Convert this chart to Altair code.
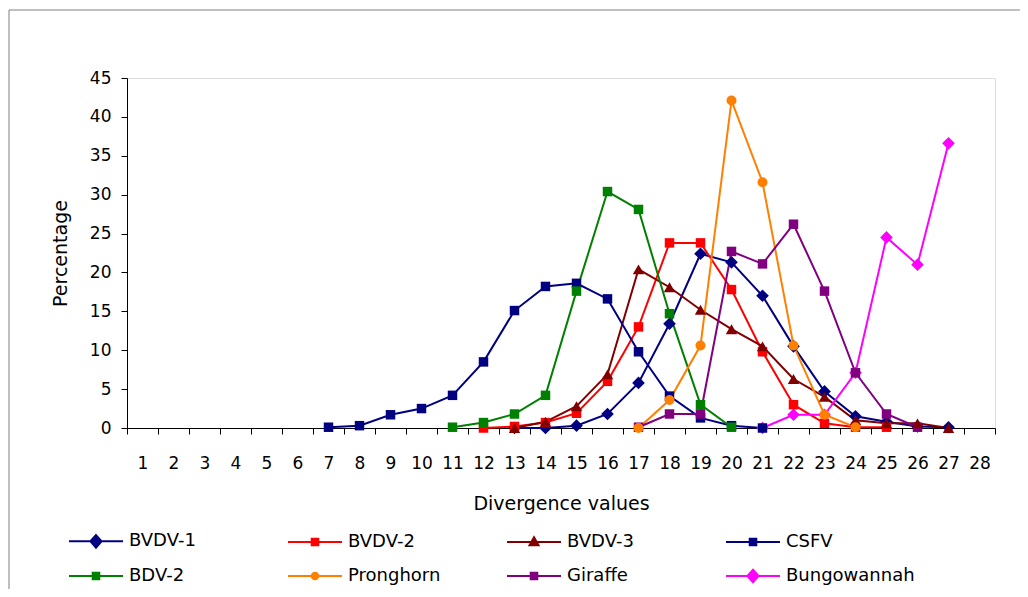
import altair as alt
import pandas as pd

categories = list(range(1, 29))
series_names = ["BVDV-1", "BVDV-2", "BVDV-3", "CSFV", "BDV-2", "Pronghorn", "Giraffe", "Bungowannah"]
series_colors = ["#000080", "#FF0000", "#800000", "#000080", "#008000", "#FF7F00", "#800080", "#FF00FF"]

bvdv1_x = list(range(13, 28))
bvdv1_y = [0.0, 0.0, 0.3, 1.8, 5.8, 13.4, 22.4, 21.3, 17.0, 10.5, 4.7, 1.5, 0.8, 0.2, 0.1]

bvdv2_x = list(range(12, 26))
bvdv2_y = [0.0, 0.2, 0.7, 1.9, 6.0, 13.0, 23.8, 23.8, 17.8, 9.8, 3.0, 0.6, 0.1, 0.1]

bvdv3_x = list(range(13, 28))
bvdv3_y = [0.0, 0.8, 2.8, 6.9, 20.4, 18.1, 15.2, 12.7, 10.5, 6.3, 4.0, 1.0, 0.6, 0.6, 0.0]

csfv_x = list(range(7, 22))
csfv_y = [0.1, 0.3, 1.7, 2.5, 4.2, 8.5, 15.1, 18.2, 18.6, 16.6, 9.8, 4.1, 1.3, 0.3, 0.0]

bdv2_x = list(range(11, 21))
bdv2_y = [0.1, 0.7, 1.8, 4.2, 17.6, 30.4, 28.1, 14.7, 3.0, 0.1]

pronghorn_x = list(range(17, 25))
pronghorn_y = [0.0, 3.6, 10.6, 42.1, 31.6, 10.6, 1.7, 0.1]

giraffe_x = list(range(17, 27))
giraffe_y = [0.1, 1.8, 1.8, 22.7, 21.1, 26.2, 17.6, 7.1, 1.8, 0.1]

bungowannah_x = list(range(21, 28))
bungowannah_y = [0.0, 1.7, 1.7, 7.1, 24.5, 21.0, 36.6]

y_ticks = list(range(0, 50, 5))

series_data = [
    ("BVDV-1", bvdv1_x, bvdv1_y),
    ("BVDV-2", bvdv2_x, bvdv2_y),
    ("BVDV-3", bvdv3_x, bvdv3_y),
    ("CSFV", csfv_x, csfv_y),
    ("BDV-2", bdv2_x, bdv2_y),
    ("Pronghorn", pronghorn_x, pronghorn_y),
    ("Giraffe", giraffe_x, giraffe_y),
    ("Bungowannah", bungowannah_x, bungowannah_y),
]

rows = []
for name, xs, ys in series_data:
    for xv, yv in zip(xs, ys):
        rows.append({"series": name, "div": xv, "pct": yv})
df = pd.DataFrame(rows)

FONT = "DejaVu Sans"

color_scale = alt.Scale(domain=series_names, range=series_colors)

x_enc = alt.X(
    "div:O",
    scale=alt.Scale(domain=categories, paddingInner=0, paddingOuter=0),
    axis=alt.Axis(
        title="Divergence values", labelAngle=0, tickBand="extent", tickSize=6,
        tickColor="black", domainColor="black", labelPadding=21, titlePadding=23,
        labelFont=FONT, titleFont=FONT, labelFontSize=17, titleFontSize=19,
        titleFontWeight="normal", labelColor="black", titleColor="black", grid=False,
    ),
)
y_enc = alt.Y(
    "pct:Q",
    scale=alt.Scale(domain=[0, 45], nice=False),
    axis=alt.Axis(
        title="Percentage", values=y_ticks, tickSize=6, tickColor="black",
        domainColor="black", labelPadding=10, titlePadding=19, labelOverlap=False,
        labelFont=FONT, titleFont=FONT, labelFontSize=17, titleFontSize=19,
        titleFontWeight="normal", labelColor="black", titleColor="black", grid=False,
    ),
)

base = alt.Chart(df).encode(
    x=x_enc,
    y=y_enc,
    color=alt.Color("series:N", scale=color_scale, legend=None),
)

lines = base.mark_line(strokeWidth=2)

marker_groups = [
    ("diamond", 160, ["BVDV-1", "Bungowannah"]),
    ("square", 90, ["BVDV-2", "CSFV", "BDV-2", "Giraffe"]),
    ("triangle-up", 130, ["BVDV-3"]),
    ("circle", 100, ["Pronghorn"]),
]
marker_layers = []
for shp, sz, members in marker_groups:
    marker_layers.append(
        base.mark_point(shape=shp, size=sz, filled=True, opacity=1).transform_filter(
            alt.FieldOneOfPredicate(field="series", oneOf=members)
        )
    )

LINE = "M-1.8,0H1.8"
DIA = LINE + "M0,-0.42L0.37,0L0,0.42L-0.37,0Z"
SQR = LINE + "M-0.22,-0.22H0.22V0.22H-0.22Z"
TRI = LINE + "M0,-0.32L0.3,0.22H-0.3Z"
CIR = LINE + "M0.22,0A0.22,0.22 0 1,1 -0.22,0A0.22,0.22 0 1,1 0.22,0Z"
legend_paths = [DIA, SQR, TRI, SQR, SQR, CIR, SQR, DIA]

legend_def = alt.Legend(
    title=None, orient="none", legendX=-47, legendY=447, columns=4,
    direction="horizontal",
    gridAlign="all", columnPadding=26, rowPadding=8, symbolSize=900,
    symbolStrokeWidth=2, labelFont=FONT, labelFontSize=18,
    labelOffset=17, labelColor="black", labelLimit=300,
)

legend_layer = alt.Chart(df).mark_point(filled=True, strokeWidth=2, fillOpacity=0, strokeOpacity=0).encode(
    x=x_enc,
    y=y_enc,
    fill=alt.Fill("series:N", scale=alt.Scale(domain=series_names, range=series_colors), legend=legend_def),
    stroke=alt.Stroke("series:N", scale=alt.Scale(domain=series_names, range=series_colors), legend=legend_def),
    shape=alt.Shape("series:N", scale=alt.Scale(domain=series_names, range=legend_paths), legend=legend_def),
)

frame_df = pd.DataFrame({"k": [0]})
frame_left = alt.Chart(frame_df).mark_rule(color="#808080", strokeWidth=1).encode(
    x=alt.value(-118), y=alt.value(-68), y2=alt.value(600)
)
frame_top = alt.Chart(frame_df).mark_rule(color="#808080", strokeWidth=1).encode(
    x=alt.value(-118), x2=alt.value(1000), y=alt.value(-68)
)

chart = alt.layer(
    frame_left, frame_top, legend_layer, lines, *marker_layers
).properties(
    width=868, height=350,
    padding={"left": 119, "top": 70, "right": 25, "bottom": 161},
    autosize=alt.AutoSizeParams(type="none"),
).configure_view(stroke="transparent").configure(background="white")

chart.save("out.html", embed_options={"renderer": "svg", "actions": False})
